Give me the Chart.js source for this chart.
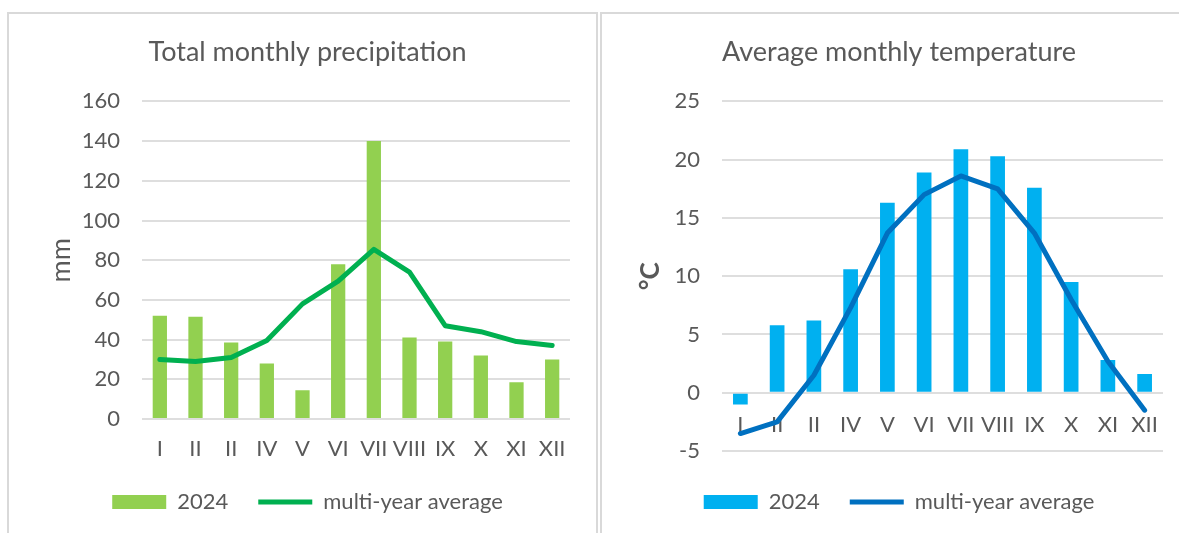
<!DOCTYPE html>
<html>
<head>
<meta charset="utf-8">
<script src="https://cdn.jsdelivr.net/npm/chart.js@4.4.1/dist/chart.umd.min.js"></script>
<style>
body { margin:0; background:#fff; width:1179px; height:533px; overflow:hidden; position:relative; }
canvas { position:absolute; top:0; }
#precipChart { left:0; }
#tempChart { left:601px; }
.panel { position:absolute; top:12px; height:530px; border-top:2px solid #d9d9d9; border-left:2px solid #d9d9d9; }
</style>
</head>
<body>
<canvas id="precipChart" width="597" height="533"></canvas>
<canvas id="tempChart" width="578" height="533"></canvas>
<div class="panel" style="left:7px;width:587px;border-right:2px solid #d9d9d9"></div>
<div class="panel" style="left:600px;width:590px"></div>
<script>
// month labels as printed in the source (third one really reads "II")
var monthLabels = ['I', 'II', 'II', 'IV', 'V', 'VI', 'VII', 'VIII', 'IX', 'X', 'XI', 'XII'];

var precip2024 = [52, 51.5, 38.5, 28, 14.5, 78, 140, 41, 39, 32, 18.5, 30];
var precipAverage = [30, 29, 31, 39.5, 58, 69.5, 85.5, 74, 47, 44, 39, 37];

var temp2024 = [-1, 5.8, 6.2, 10.6, 16.3, 18.9, 20.9, 20.3, 17.6, 9.5, 2.8, 1.6];
var tempAverage = [-3.5, -2.5, 1.5, 7.3, 13.7, 17, 18.6, 17.5, 13.7, 8, 2.7, -1.5];

var textColor = '#595959';
var gridColor = '#dedede';

Chart.defaults.font.family = 'Lato, "Open Sans", sans-serif';
Chart.defaults.color = textColor;

function legendOptions(extraTop) {
    return {
        position: 'bottom',
        // empty title only used to push the legend row down
        title: { display: extraTop > 0, text: '', font: { size: 5 }, padding: { top: 0, bottom: extraTop - 6 } },
        labels: {
            usePointStyle: true,
            pointStyleWidth: 54,
            boxHeight: 14,
            padding: 30,
            font: { size: 22 },
            color: textColor,
            sort: function (a, b) { return a.datasetIndex - b.datasetIndex; }
        }
    };
}

function generatePrecipChart() {
    var ctx = document.getElementById('precipChart');
    new Chart(ctx, {
        type: 'bar',
        data: {
            labels: monthLabels,
            datasets: [{
                type: 'bar',
                label: '2024',
                data: precip2024,
                backgroundColor: '#92D050',
                borderWidth: 0,
                barPercentage: 0.4,
                categoryPercentage: 1,
                pointStyle: 'rect',
                order: 1
            }, {
                type: 'line',
                label: 'multi-year average',
                data: precipAverage,
                borderColor: '#00B050',
                backgroundColor: '#00B050',
                borderWidth: 5,
                borderCapStyle: 'round',
                borderJoinStyle: 'round',
                tension: 0,
                pointRadius: 0,
                pointStyle: 'line',
                order: 0
            }]
        },
        options: {
            responsive: false,
            animation: false,
            layout: { padding: { left: 45, right: 27, top: 0, bottom: 10 } },
            plugins: {
                title: {
                    display: true,
                    text: 'Total monthly precipitation',
                    font: { size: 27, weight: 'normal' },
                    color: textColor,
                    padding: { top: 36, bottom: 33 }
                },
                legend: legendOptions(0),
                tooltip: { enabled: false }
            },
            scales: {
                x: {
                    grid: { display: false, drawTicks: false },
                    border: { display: false },
                    ticks: { font: { size: 22 }, padding: 17, maxRotation: 0, autoSkip: false },
                    afterFit: function (scale) { scale.height = 42; }
                },
                y: {
                    min: 0,
                    max: 160,
                    ticks: { stepSize: 20, font: { size: 22 }, padding: 22 },
                    grid: { color: gridColor, lineWidth: 2, drawTicks: false },
                    border: { display: false },
                    title: { display: true, text: 'mm', font: { size: 27 }, color: textColor, padding: 0 },
                    afterFit: function (scale) { scale.width = 97; }
                }
            }
        }
    });
}

function generateTempChart() {
    var ctx = document.getElementById('tempChart');
    new Chart(ctx, {
        type: 'bar',
        data: {
            labels: monthLabels,
            datasets: [{
                type: 'bar',
                label: '2024',
                data: temp2024,
                backgroundColor: '#00B0F0',
                borderWidth: 0,
                barPercentage: 0.4,
                categoryPercentage: 1,
                pointStyle: 'rect',
                order: 1
            }, {
                type: 'line',
                label: 'multi-year average',
                data: tempAverage,
                borderColor: '#0070C0',
                backgroundColor: '#0070C0',
                borderWidth: 5,
                borderCapStyle: 'round',
                borderJoinStyle: 'round',
                tension: 0,
                pointRadius: 0,
                pointStyle: 'line',
                order: 0
            }]
        },
        options: {
            responsive: false,
            animation: false,
            layout: { padding: { left: 34, right: 16, top: 0, bottom: 10 } },
            plugins: {
                title: {
                    display: true,
                    text: 'Average monthly temperature',
                    font: { size: 27, weight: 'normal' },
                    color: textColor,
                    padding: { top: 36, bottom: 33 }
                },
                legend: legendOptions(10),
                tooltip: { enabled: false }
            },
            scales: {
                x: {
                    // labels sit just under the zero line, not at the bottom
                    position: { y: 0 },
                    grid: { display: false, drawTicks: false },
                    border: { display: false },
                    ticks: { font: { size: 22 }, padding: 19, maxRotation: 0, autoSkip: false }
                },
                y: {
                    min: -5,
                    max: 25,
                    ticks: { stepSize: 5, font: { size: 22 }, padding: 22 },
                    grid: { color: gridColor, lineWidth: 2, drawTicks: false },
                    border: { display: false },
                    title: { display: true, text: '°C', font: { size: 26, weight: 'bold' }, color: textColor, padding: 0 },
                    afterFit: function (scale) { scale.width = 87; }
                }
            }
        }
    });
}

generatePrecipChart();
generateTempChart();
</script>
</body>
</html>
